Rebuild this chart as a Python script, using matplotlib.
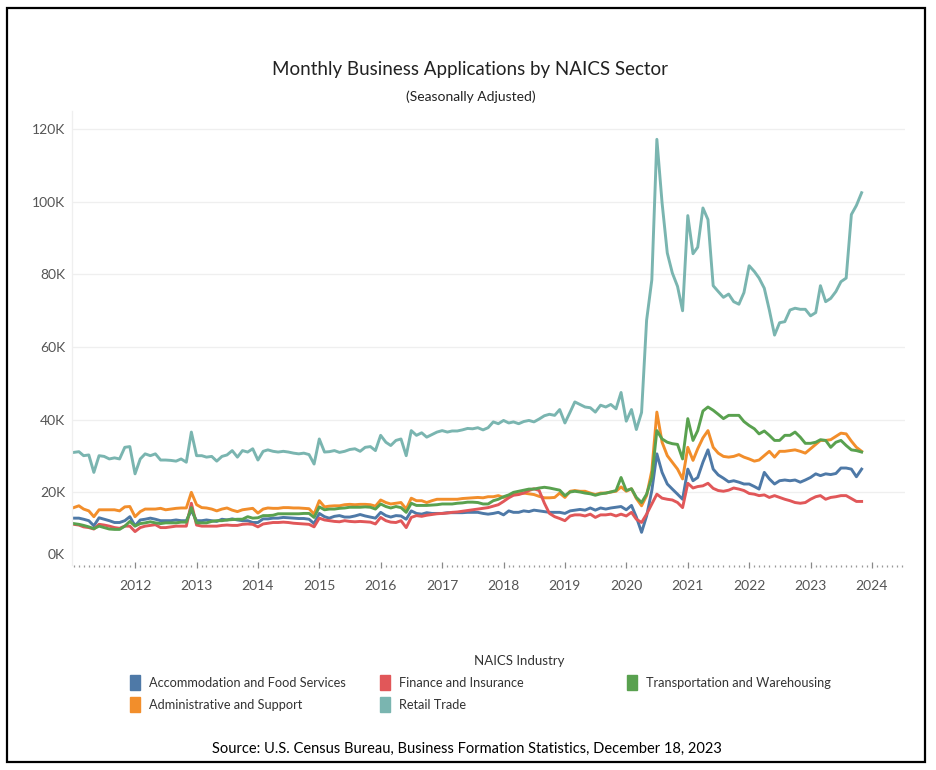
import numpy as np
import pandas as pd
import matplotlib
matplotlib.use('Agg')
import matplotlib.pyplot as plt
import matplotlib.dates as mdates
from matplotlib.patches import Rectangle
from matplotlib.transforms import ScaledTranslation

# monthly applications (thousands), Jan 2011 - Nov 2023
accommodation = [
    12.9, 12.9, 12.6, 12.2, 10.8, 13.0, 12.6, 12.2, 11.7, 11.7, 12.2, 13.3,
    10.8, 12.4, 12.6, 12.9, 12.6, 12.2, 12.2, 12.2, 12.4, 12.2, 12.2, 15.0,
    12.2, 12.2, 12.4, 12.2, 12.0, 12.6, 12.4, 12.7, 12.4, 12.2, 12.2, 11.7,
    11.7, 12.7, 12.7, 12.9, 12.9, 13.1, 13.0, 12.9, 12.8, 12.8, 12.6, 11.4,
    14.2, 13.3, 12.9, 13.4, 13.6, 13.2, 13.2, 13.5, 13.9, 13.5, 13.2, 12.9,
    14.5, 13.6, 13.2, 13.6, 13.5, 12.6, 14.9, 14.2, 14.0, 14.4, 14.2, 14.2,
    14.2, 14.4, 14.4, 14.4, 14.4, 14.5, 14.5, 14.5, 14.2, 14.0, 14.2, 14.5,
    13.8, 14.9, 14.5, 14.5, 14.9, 14.7, 15.1, 14.9, 14.7, 14.5, 14.5, 14.5,
    14.2, 14.9, 15.1, 15.3, 15.1, 15.7, 15.1, 15.7, 15.4, 15.7, 15.9, 16.1,
    15.2, 16.4, 13.2, 9.0, 13.5, 20.5, 30.6, 25.5, 22.3, 20.9, 19.5, 18.1,
    26.4, 23.2, 24.1, 28.3, 31.7, 26.4, 24.8, 23.9, 22.9, 23.2, 22.8, 22.3,
    22.3, 21.6, 20.9, 25.5, 23.7, 22.3, 23.2, 23.4, 23.2, 23.4, 22.8, 23.4,
    24.1, 25.1, 24.6, 25.1, 24.9, 25.2, 26.7, 26.7, 26.4, 24.3, 26.4,
]
admin_support = [
    15.8, 16.3, 15.4, 14.9, 13.3, 15.2, 15.2, 15.2, 15.2, 14.9, 16.0, 16.1,
    13.3, 14.7, 15.4, 15.4, 15.4, 15.6, 15.2, 15.4, 15.6, 15.7, 15.7, 20.0,
    16.6, 15.8, 15.7, 15.4, 14.9, 15.4, 15.7, 15.1, 14.7, 15.2, 15.4, 15.6,
    14.3, 15.4, 15.7, 15.6, 15.6, 15.8, 15.8, 15.7, 15.7, 15.6, 15.5, 14.0,
    17.7, 16.0, 16.2, 16.3, 16.3, 16.6, 16.7, 16.6, 16.7, 16.7, 16.6, 16.2,
    17.9, 17.2, 16.8, 17.0, 17.2, 15.4, 18.4, 17.7, 17.7, 17.2, 17.7, 18.1,
    18.1, 18.1, 18.1, 18.1, 18.3, 18.4, 18.5, 18.6, 18.5, 18.8, 18.8, 19.1,
    18.6, 19.1, 19.4, 19.6, 19.8, 19.6, 19.4, 18.9, 18.5, 18.5, 18.6, 19.8,
    18.6, 20.3, 20.5, 20.3, 20.3, 19.8, 19.4, 19.8, 19.8, 20.1, 20.3, 21.5,
    20.3, 21.0, 18.3, 16.3, 19.1, 26.0, 42.1, 33.8, 30.1, 28.3, 26.4, 23.7,
    32.4, 28.8, 32.0, 35.0, 37.0, 32.4, 30.8, 29.9, 29.7, 29.9, 30.4, 29.7,
    29.2, 28.6, 28.9, 30.1, 31.3, 29.7, 31.3, 31.3, 31.5, 31.7, 31.3, 30.8,
    32.0, 33.2, 34.3, 34.3, 34.5, 35.4, 36.3, 36.1, 34.1, 32.4, 31.3,
]
finance = [
    11.2, 11.0, 10.5, 10.3, 9.9, 11.2, 11.0, 10.7, 10.3, 10.1, 10.7, 10.7,
    9.2, 10.3, 10.7, 10.9, 11.1, 10.3, 10.3, 10.5, 10.7, 10.7, 10.7, 17.0,
    11.0, 10.7, 10.7, 10.7, 10.7, 10.9, 11.0, 10.9, 10.9, 11.2, 11.3, 11.2,
    10.5, 11.3, 11.5, 11.7, 11.7, 11.8, 11.7, 11.5, 11.4, 11.3, 11.2, 10.5,
    12.9, 12.4, 12.2, 12.0, 11.9, 12.2, 12.0, 11.9, 12.0, 11.9, 11.8, 11.3,
    13.1, 12.2, 11.8, 11.7, 12.2, 10.3, 13.1, 13.6, 13.4, 13.7, 13.9, 14.1,
    14.2, 14.3, 14.5, 14.6, 14.8, 15.0, 15.2, 15.4, 15.6, 15.8, 16.2, 16.6,
    17.5, 18.5, 19.2, 19.4, 19.8, 20.5, 21.0, 20.5, 17.0, 14.2, 13.3, 12.8,
    12.2, 13.5, 13.8, 13.8, 13.5, 14.0, 13.1, 13.8, 13.8, 14.0, 13.5, 14.0,
    13.5, 14.5, 12.6, 11.7, 14.0, 16.8, 19.5, 18.4, 18.1, 17.9, 17.2, 15.8,
    22.5, 21.2, 21.6, 21.8, 22.5, 21.1, 20.5, 20.3, 20.6, 21.2, 20.9, 20.5,
    19.7, 19.5, 19.1, 19.3, 18.6, 19.1, 18.6, 18.1, 17.7, 17.2, 17.0, 17.2,
    18.1, 18.8, 19.1, 18.1, 18.6, 18.8, 19.1, 19.1, 18.3, 17.5, 17.5,
]
retail = [
    31.0, 31.2, 30.1, 30.3, 25.5, 30.1, 29.9, 29.2, 29.5, 29.2, 32.4, 32.6,
    25.1, 29.2, 30.6, 30.1, 30.6, 28.9, 28.9, 28.8, 28.6, 29.2, 28.3, 36.6,
    30.1, 30.1, 29.7, 29.9, 28.6, 29.9, 30.3, 31.5, 29.7, 31.5, 31.1, 32.0,
    28.9, 31.3, 31.7, 31.3, 31.1, 31.3, 31.1, 30.8, 30.6, 30.8, 30.4, 27.8,
    34.7, 31.1, 31.2, 31.5, 31.0, 31.3, 31.8, 32.0, 31.3, 32.4, 32.6, 31.5,
    35.7, 33.8, 32.9, 34.3, 34.7, 30.1, 37.0, 35.7, 36.4, 35.2, 35.9, 36.6,
    37.0, 36.6, 36.9, 36.9, 37.2, 37.6, 37.5, 37.8, 37.2, 37.8, 39.4, 38.9,
    39.8, 39.1, 39.4, 38.9, 39.5, 39.8, 39.4, 40.2, 41.1, 41.5, 41.2, 42.8,
    39.1, 42.1, 44.9, 44.2, 43.5, 43.3, 42.1, 44.0, 43.5, 44.2, 43.0, 47.5,
    39.6, 42.8, 37.3, 42.0, 67.4, 78.5, 117.2, 99.7, 85.9, 80.4, 76.7, 70.0,
    96.2, 85.7, 87.5, 98.3, 95.1, 76.9, 75.3, 73.7, 74.6, 72.5, 71.8, 75.0,
    82.4, 80.8, 79.0, 76.2, 70.2, 63.3, 66.7, 67.0, 70.2, 70.7, 70.4, 70.4,
    68.6, 69.5, 76.9, 72.5, 73.4, 75.3, 78.0, 79.0, 96.5, 99.0, 102.5,
]
transportation = [
    11.4, 11.2, 10.9, 10.5, 10.0, 10.7, 10.3, 9.9, 9.8, 9.8, 10.7, 12.0,
    10.7, 11.4, 11.6, 11.9, 11.6, 11.4, 11.6, 11.6, 11.6, 11.8, 11.8, 15.8,
    11.6, 11.6, 11.6, 12.0, 12.2, 12.2, 12.4, 12.5, 12.6, 12.6, 13.3, 12.9,
    13.0, 13.6, 13.6, 13.7, 14.1, 14.1, 14.1, 14.1, 14.1, 14.2, 14.2, 13.1,
    16.0, 15.2, 15.4, 15.4, 15.6, 15.7, 15.9, 15.9, 15.9, 16.0, 15.9, 15.4,
    16.8, 16.1, 15.7, 16.1, 15.8, 14.5, 17.0, 16.4, 16.4, 16.4, 16.5, 16.6,
    16.8, 16.8, 16.8, 17.0, 17.1, 17.3, 17.3, 17.2, 16.8, 16.8, 17.7, 18.1,
    18.8, 19.3, 20.0, 20.3, 20.6, 20.9, 20.9, 21.2, 21.4, 21.2, 20.9, 20.6,
    19.1, 20.1, 20.3, 20.1, 19.8, 19.6, 19.2, 19.6, 19.8, 20.1, 20.5, 24.1,
    20.5, 21.0, 18.6, 17.2, 19.5, 24.1, 37.0, 34.7, 33.8, 33.4, 33.2, 29.2,
    40.3, 34.3, 37.0, 42.4, 43.5, 42.6, 41.5, 40.3, 41.2, 41.2, 41.2, 39.5,
    38.4, 37.5, 36.1, 36.9, 35.7, 34.3, 34.3, 35.7, 35.7, 36.6, 35.2, 33.5,
    33.5, 33.8, 34.5, 34.3, 32.4, 33.8, 34.3, 32.9, 31.7, 31.5, 31.1,
]

years = list(range(2012, 2025))
months = pd.date_range('2011-01-01', periods=len(retail), freq='MS')

series = [
    ('Accommodation and Food Services', accommodation, '#4e79a7'),
    ('Administrative and Support', admin_support, '#f28e2b'),
    ('Finance and Insurance', finance, '#e15759'),
    ('Retail Trade', retail, '#7ab5b0'),
    ('Transportation and Warehousing', transportation, '#59a14f'),
]

plt.rcParams['font.family'] = ['Lato', 'DejaVu Sans']

W, H = 936, 770
fig = plt.figure(figsize=(W / 100, H / 100), dpi=100)


def fx(px):
    return px / W


def fy(py):
    return 1 - py / H


ax = fig.add_axes([fx(72), fy(565), fx(905) - fx(72), fy(111) - fy(565)])

for name, vals, col in series:
    ax.plot(months, np.array(vals) * 1000, color=col, lw=2.1,
            solid_joinstyle='round', label=name)

ax.set_ylim(0, 125000)
ax.set_xlim(pd.Timestamp('2010-12-22'), pd.Timestamp('2024-07-16'))

yt = np.arange(0, 120001, 20000)
ax.set_yticks(yt)
ax.set_yticklabels(['%dK' % (v // 1000) for v in yt])
for v in yt[1:]:
    ax.axhline(v, color='#efefef', lw=0.9, zorder=0)

ax.set_xticks([pd.Timestamp('%d-01-01' % y) for y in years])
ax.set_xticklabels([str(y) for y in years])
ax.xaxis.set_minor_locator(mdates.MonthLocator())

for s in ['top', 'right', 'bottom']:
    ax.spines[s].set_visible(False)
ax.spines['left'].set_color('#efefef')
ax.spines['left'].set_linewidth(0.9)

ax.tick_params(axis='y', length=0, pad=5, labelsize=10, labelcolor='#555555')
ax.tick_params(axis='x', which='major', length=4, width=0.9, color='#888888',
               direction='inout', pad=9, labelsize=10, labelcolor='#555555')
ax.tick_params(axis='x', which='minor', length=1.6, width=0.9, color='#999999',
               direction='out')

# Tableau nudges the bottom label up a bit
zero_lbl = ax.get_yticklabels()[0]
zero_lbl.set_transform(zero_lbl.get_transform() +
                       ScaledTranslation(0, 11 / 100, fig.dpi_scale_trans))

# titles
fig.text(fx(470), fy(70), 'Monthly Business Applications by NAICS Sector',
         ha='center', va='center', fontsize=13.5, color='#222222')
fig.text(fx(471), fy(97), '(Seasonally Adjusted)', ha='center', va='center',
         fontsize=10, color='#222222')

# legend, laid out like the Tableau colour legend
fig.text(fx(519), fy(661), 'NAICS Industry', ha='center', va='center',
         fontsize=9.5, color='#333333')
slots = [(130, 683), (130, 705), (380, 683), (380, 705), (627, 683)]
for (name, vals, col), (lx, ly) in zip(series, slots):
    fig.patches.append(Rectangle((fx(lx), fy(ly + 7)), fx(10), fy(0) - fy(15),
                                 transform=fig.transFigure, color=col))
    fig.text(fx(lx + 19), fy(ly), name, ha='left', va='center',
             fontsize=9.2, color='#333333')

fig.text(fx(467), fy(749),
         'Source: U.S. Census Bureau, Business Formation Statistics, December 18, 2023',
         ha='center', va='center', fontsize=10.5, color='black')

# frame round the whole graphic
fig.patches.append(Rectangle((fx(7), fy(762)), fx(918), fy(8) - fy(762),
                             transform=fig.transFigure, fill=False,
                             ec='black', lw=1.6))

fig.savefig('out.png', dpi=100)
